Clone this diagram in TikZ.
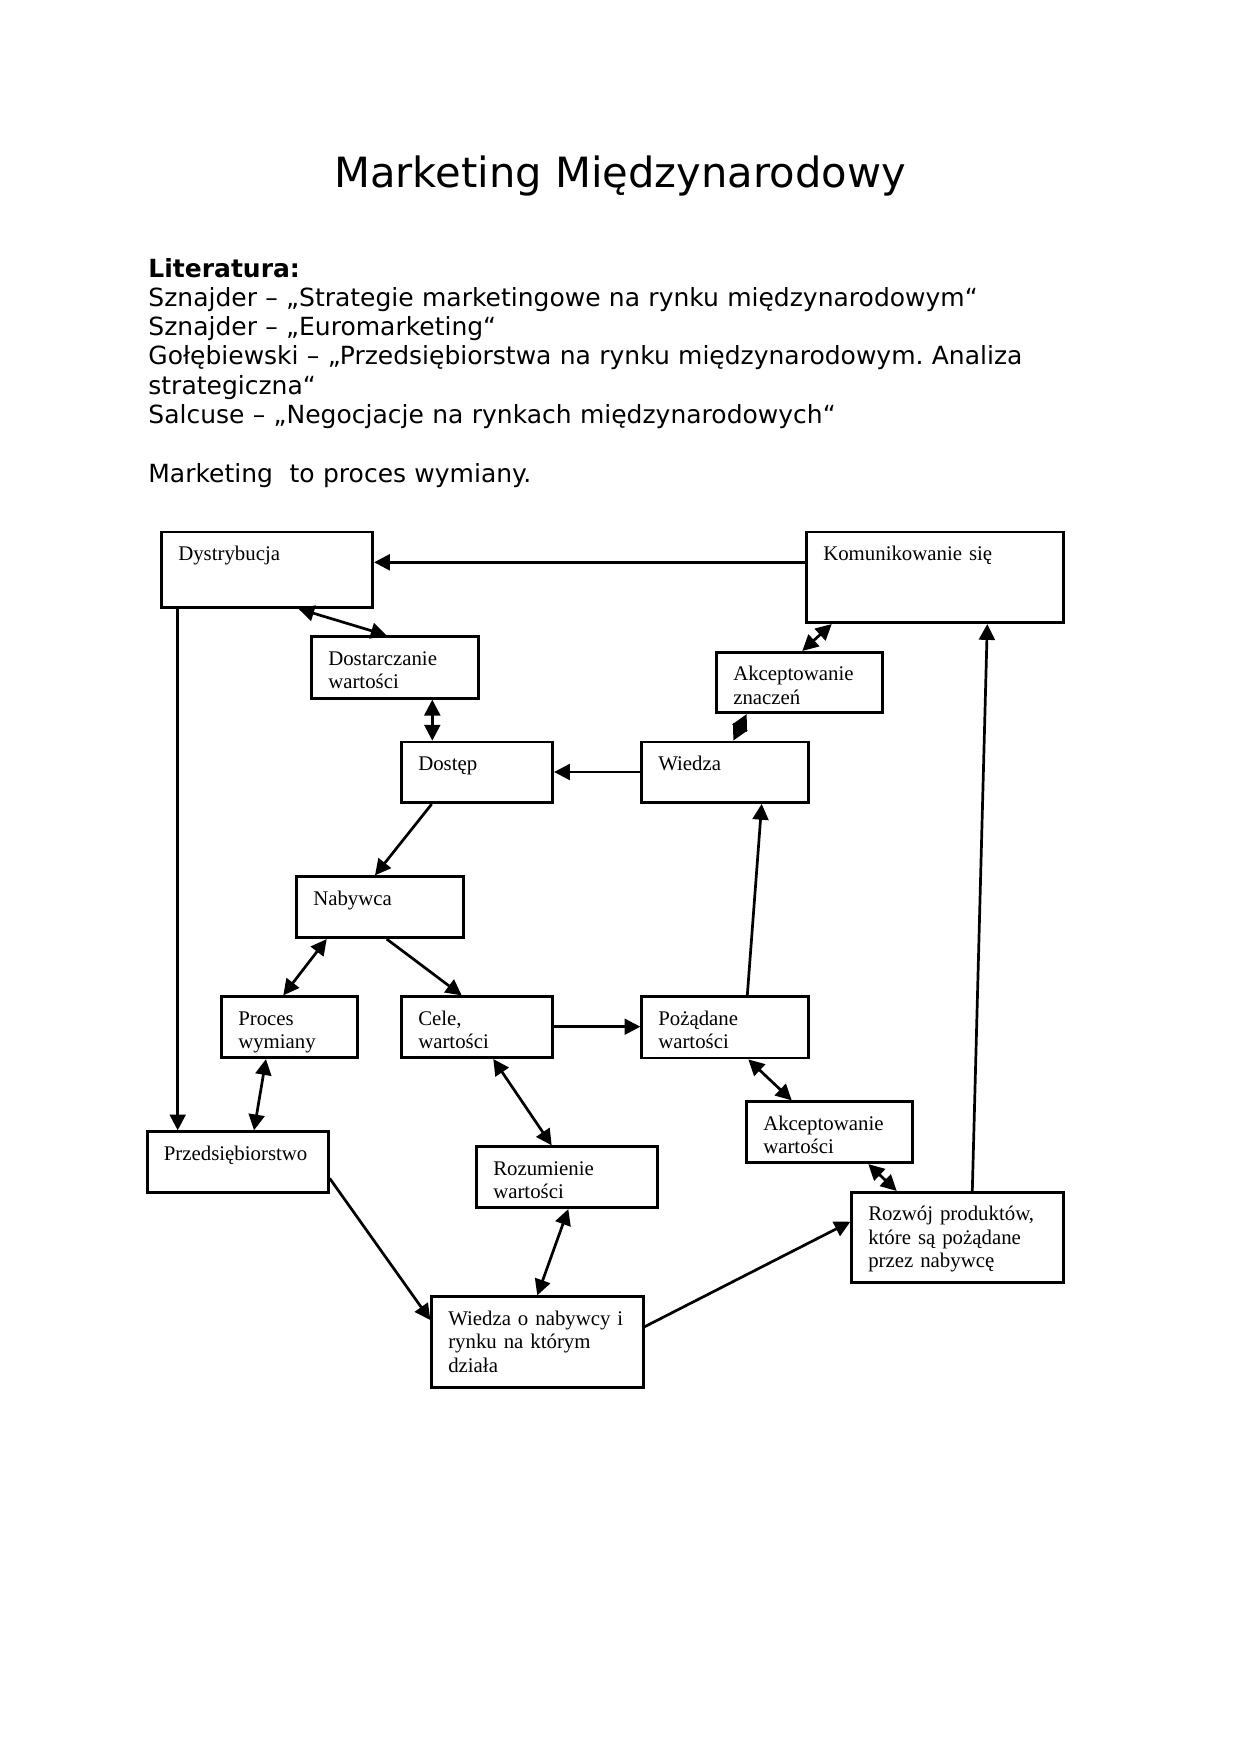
\documentclass[tikz,border=0pt]{standalone}
\usepackage{fontspec}
\setmainfont{Liberation Serif}
\newfontfamily\dv{DejaVu Sans}
\usetikzlibrary{arrows.meta,fit,calc}
\frenchspacing
\begin{document}
\begin{tikzpicture}[x=0.48pt,y=-0.48pt,
  box/.style={draw, line width=1.3pt, inner sep=0pt},
  txt/.style={anchor=base west, inner sep=0pt, text width=130pt, align=left, font=\fontsize{10}{11.25}\selectfont},
  arr/.style={line width=1.3pt, -{Triangle[length=7.6pt,width=7.6pt]}},
  darr/.style={line width=1.3pt, {Triangle[length=7.6pt,width=7.6pt]}-{Triangle[length=7.6pt,width=7.6pt]}}]
\useasboundingbox (0,0) rectangle (1240,1754);
% header
\node[font=\dv\fontsize{20}{24}\selectfont, anchor=base, inner sep=0pt] (title) at (620,187.7) {Marketing Międzynarodowy};
\node[font=\dv\fontsize{12}{14.06}\selectfont, anchor=base west, inner sep=0pt, text width=480pt, align=left] (lit) at (148,277)
 {\textbf{Literatura:}\\
  Sznajder – „Strategie marketingowe na rynku międzynarodowym“\\
  Sznajder – „Euromarketing“\\
  Gołębiewski – „Przedsiębiorstwa na rynku międzynarodowym. Analiza\\
  strategiczna“\\
  Salcuse – „Negocjacje na rynkach międzynarodowych“\\[14.06pt]
  Marketing\ \ to proces wymiany.};
% boxes
\node[box, fit={(161.7,532) (372.7,607.3)}] (dys) {};
\node[box, fit={(806.7,532) (1063.3,622.7)}] (kom) {};
\node[box, fit={(311.7,636.7) (478.3,698.3)}] (dos) {};
\node[box, fit={(716.7,652.3) (882.7,712.7)}] (akz) {};
\node[box, fit={(401.7,742) (552.7,802.7)}] (dst) {};
\node[box, fit={(641.7,742) (808.3,802.5)}] (wie) {};
\node[box, fit={(296.7,876.7) (463.3,937.7)}] (nab) {};
\node[box, fit={(221.7,996.7) (357.7,1057.7)}] (pro) {};
\node[box, fit={(401.7,996.7) (552.7,1057.7)}] (cel) {};
\node[box, fit={(641.7,996.7) (808.3,1058)}] (poz) {};
\node[box, fit={(746.7,1101.7) (912.7,1162.7)}] (akw) {};
\node[box, fit={(147.3,1131.7) (328.3,1192.5)}] (prz) {};
\node[box, fit={(476.7,1146.7) (657.7,1207.7)}] (roz) {};
\node[box, fit={(851.7,1192.3) (1063.3,1282.7)}] (rwj) {};
\node[box, fit={(431.7,1296.7) (643.3,1387.2)}] (wnr) {};
% texts
\node[txt] (dys-t) at ($(dys.north west)+(17.5,30)$) {Dystrybucja};
\node[txt] (kom-t) at ($(kom.north west)+(17.5,30)$) {Komunikowanie się};
\node[txt] (dos-t) at ($(dos.north west)+(17.5,30)$) {Dostarczanie\\wartości};
\node[txt] (akz-t) at ($(akz.north west)+(17.5,30)$) {Akceptowanie\\znaczeń};
\node[txt] (dst-t) at ($(dst.north west)+(17.5,30)$) {Dostęp};
\node[txt] (wie-t) at ($(wie.north west)+(17.5,30)$) {Wiedza};
\node[txt] (nab-t) at ($(nab.north west)+(17.5,30)$) {Nabywca};
\begin{scope}
\clip (pro.north west) rectangle ($(pro.south east)+(0,-6)$);
\node[txt] (pro-t) at ($(pro.north west)+(17.5,30)$) {Proces\\wymiany};
\end{scope}
\node[txt] (cel-t) at ($(cel.north west)+(17.5,30)$) {Cele,\\wartości};
\node[txt] (poz-t) at ($(poz.north west)+(17.5,30)$) {Pożądane\\wartości};
\node[txt] (akw-t) at ($(akw.north west)+(17.5,30)$) {Akceptowanie\\wartości};
\node[txt] (prz-t) at ($(prz.north west)+(17.5,30)$) {Przedsiębiorstwo};
\node[txt] (roz-t) at ($(roz.north west)+(17.5,30)$) {Rozumienie\\wartości};
\node[txt] (rwj-t) at ($(rwj.north west)+(17.5,30)$) {Rozwój produktów,\\które są pożądane\\przez nabywcę};
\node[txt] (wnr-t) at ($(wnr.north west)+(17.5,30)$) {Wiedza o nabywcy i\\rynku na którym\\działa};
% connectors
\draw[arr] (kom.west |- 0,562.3) -- (dys.east |- 0,562.3);
\draw[darr] (dys.south -| 298.3,0) -- (dos.north -| 386.7,0);
\draw[darr] (dos.south -| 432.3,0) -- (dst.north -| 432.3,0);
\draw[darr] (akz.north -| 802.3,0) -- (kom.south -| 831.7,0);
\draw[darr] (akz.south -| 746.7,0) -- (wie.north -| 733.3,0);
\draw[arr] (wie.west |- 0,772) -- (dst.east |- 0,772);
\draw[arr] (dst.south -| 431.7,0) -- (nab.north -| 375,0);
\draw[darr] (nab.south -| 326.7,0) -- (pro.north -| 283.3,0);
\draw[arr] (nab.south -| 386.7,0) -- (cel.north -| 461.7,0);
\draw[arr] (cel.east |- 0,1026.7) -- (poz.west |- 0,1026.7);
\draw[arr] (poz.north -| 747.3,0) -- (wie.south -| 761.7,0);
\draw[darr] (poz.south -| 748.3,0) -- (akw.north -| 791.7,0);
\draw[darr] (akw.south -| 868.3,0) -- (rwj.north -| 896.7,0);
\draw[arr] (rwj.north -| 972.3,0) -- (kom.south -| 987.3,0);
\draw[arr] (dys.south -| 177.7,0) -- (prz.north -| 177.7,0);
\draw[darr] (pro.south -| 266,0) -- (prz.north -| 254,0);
\draw[darr] (cel.south -| 493.3,0) -- (roz.north -| 551.7,0);
\draw[arr] (prz.east |- 0,1178.3) -- (wnr.west |- 0,1320);
\draw[darr] (roz.south -| 568.3,0) -- (wnr.north -| 537.3,0);
\draw[arr] (wnr.east |- 0,1326.7) -- (rwj.west |- 0,1221.7);
\end{tikzpicture}
\end{document}
